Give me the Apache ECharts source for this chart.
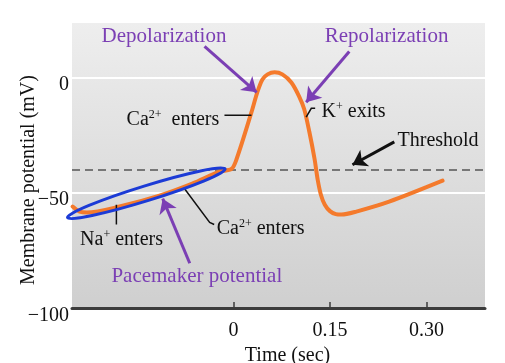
<!DOCTYPE html>
<html><head><meta charset="utf-8">
<script src="https://cdn.jsdelivr.net/npm/echarts@6/dist/echarts.min.js"></script>
<style>html,body{margin:0;padding:0;background:#fff}#c{width:505px;height:363px}</style>
</head><body><div id="c"></div>
<script>
// ---- data (time in seconds, membrane potential in mV) ----
const timeSec = [-0.250, -0.239, -0.228, -0.177, -0.115, -0.064, -0.022, -0.003, 0.005, 0.028, 0.037, 0.045, 0.053, 0.064, 0.076, 0.090, 0.102, 0.110, 0.118, 0.126, 0.131, 0.136, 0.142, 0.150, 0.159, 0.168, 0.191, 0.242, 0.325];
const potentialMV = [-56.0, -58.2, -58.6, -56.0, -51.3, -46.1, -40.9, -39.7, -35.3, -15.1, -6.5, -0.9, 1.3, 2.2, 1.3, -2.2, -8.2, -13.8, -23.7, -35.3, -44.5, -51.0, -55.2, -58.0, -59.3, -59.5, -58.2, -53.9, -44.8];
const thresholdMV = -40;
const xTickValues = [0, 0.15, 0.30];
const xTickLabels = ['0', '0.15', '0.30'];
const yTickValues = [-100, -50, 0];
const yTickLabels = ['\u2212100', '\u221250', '0'];

// ---- annotations (anchored in data coordinates) ----
const PURPLE = '#7b3fb4', BLACK = '#111111', ORANGE = '#f47a2c', BLUE = '#1c3bd6';
const arrows = [
  {from: [-0.045, 13.4], to: [0.036, -6.5], color: PURPLE},   // Depolarization
  {from: [0.180, 11.2], to: [0.113, -10.8], color: PURPLE},   // Repolarization
  {from: [0.250, -28.0], to: [0.185, -37.9], color: BLACK},   // Threshold
  {from: [-0.068, -80.6], to: [-0.110, -52.6], color: PURPLE} // Pacemaker
];
const leaders = [
  [[-0.014, -16.4], [0.028, -16.4]],
  [[0.113, -17.2], [0.121, -13.4], [0.127, -13.4]],
  [[-0.182, -55.2], [-0.182, -63.8]],
  [[-0.076, -48.3], [-0.037, -62.9], [-0.030, -63.8]]
];
const notes = [
  {text: 'Depolarization', at: [-0.108, 17.7], align: 'center', color: PURPLE, size: 21},
  {text: 'Repolarization', at: [0.238, 17.7], align: 'center', color: PURPLE, size: 21},
  {text: 'Ca{s|2+}  enters', at: [-0.022, -18.5], align: 'right', color: BLACK, size: 20},
  {text: 'K{s|+} exits', at: [0.137, -15.1], align: 'left', color: BLACK, size: 20},
  {text: 'Threshold', at: [0.255, -27.6], align: 'left', color: BLACK, size: 20},
  {text: 'Na{s|+} enters', at: [-0.174, -70.3], align: 'center', color: BLACK, size: 20},
  {text: 'Ca{s|2+} enters', at: [-0.026, -65.5], align: 'left', color: BLACK, size: 20},
  {text: 'Pacemaker potential', at: [-0.057, -86.2], align: 'center', color: PURPLE, size: 21}
];
const ellipseEnds = [[-0.258, -60.8], [-0.013, -39.7]];

const FONT = '"Liberation Serif", "Times New Roman", serif';
const chart = echarts.init(document.getElementById('c'), null, {renderer: 'canvas'});
const curve = timeSec.map((t, i) => [t, potentialMV[i]]);

chart.setOption({
  animation: false,
  grid: {
    left: 72, right: 20, top: 22, bottom: 55, show: true, borderWidth: 0,
    containLabel: false, outerBoundsMode: 'none',
    backgroundColor: new echarts.graphic.LinearGradient(0, 0, 0, 1, [
      {offset: 0, color: '#eeeeee'}, {offset: 1, color: '#cfcfcf'}
    ])
  },
  xAxis: {
    type: 'value', min: -0.251, max: 0.391,
    name: 'Time (sec)', nameLocation: 'middle', nameGap: 31,
    nameTextStyle: {fontFamily: FONT, fontSize: 20, color: BLACK, padding: [0, 0, 0, 18]},
    axisLine: {show: true, onZero: false, lineStyle: {color: '#3c3c3c', width: 3}},
    axisTick: {show: true, inside: true, length: 6, customValues: xTickValues, lineStyle: {color: '#3c3c3c', width: 1.5}},
    axisLabel: {customValues: xTickValues, margin: 13, fontFamily: FONT, fontSize: 20, color: BLACK,
      formatter: v => { const i = xTickValues.findIndex(x => Math.abs(x - v) < 1e-9); return i >= 0 ? xTickLabels[i] : ''; }},
    splitLine: {show: false}
  },
  yAxis: {
    type: 'value', min: -100, max: 24, interval: 50,
    name: 'Membrane potential (mV)', nameLocation: 'middle', nameGap: 33, nameMoveOverlap: false,
    nameTextStyle: {fontFamily: FONT, fontSize: 20, color: BLACK, padding: [0, 30, 0, 0]},
    axisLine: {show: false, onZero: false},
    axisTick: {show: false},
    axisLabel: {margin: 3, fontFamily: FONT, fontSize: 20, color: BLACK, verticalAlign: 'top', lineHeight: 15,
      formatter: v => { const i = yTickValues.indexOf(v); return i >= 0 ? yTickLabels[i] : ''; }},
    splitLine: {show: true, lineStyle: {color: '#ffffff', width: 2}}
  },
  series: [
    {
      type: 'line', data: curve, smooth: 0.3, showSymbol: false, z: 3,
      lineStyle: {color: ORANGE, width: 4, cap: 'round', join: 'round'},
      markLine: {
        silent: true, symbol: 'none', label: {show: false}, z: 2,
        lineStyle: {type: [8, 5], color: '#555555', width: 1.5},
        data: [{yAxis: thresholdMV}]
      }
    },
    {
      type: 'lines', coordinateSystem: 'cartesian2d', polyline: true, z: 4,
      symbol: 'none', lineStyle: {color: BLACK, width: 1.5, opacity: 1},
      data: leaders.map(c => ({coords: c}))
    },
    {
      type: 'lines', coordinateSystem: 'cartesian2d', z: 5,
      symbol: ['none', 'arrow'], symbolSize: 14,
      data: arrows.map(a => ({coords: [a.from, a.to], lineStyle: {color: a.color, width: 3, opacity: 1}}))
    }
  ]
});

// ---- annotations placed through the chart's own coordinate conversion ----
const px = p => chart.convertToPixel({gridIndex: 0}, p);
const e0 = px(ellipseEnds[0]), e1 = px(ellipseEnds[1]);
const ecx = (e0[0] + e1[0]) / 2, ecy = (e0[1] + e1[1]) / 2;
const erx = Math.hypot(e1[0] - e0[0], e1[1] - e0[1]) / 2;
const eang = Math.atan2(-(e1[1] - e0[1]), e1[0] - e0[0]);
const graphics = [{
  type: 'ellipse', x: ecx, y: ecy, rotation: eang, z: 10,
  shape: {cx: 0, cy: 0, rx: erx, ry: 7.5},
  style: {fill: null, stroke: BLUE, lineWidth: 3}
}];
notes.forEach(n => {
  const p = px(n.at);
  graphics.push({
    type: 'text', x: p[0], y: p[1], z: 10,
    style: {
      text: n.text, fill: n.color, fontFamily: FONT, fontSize: n.size,
      align: n.align, verticalAlign: 'middle',
      rich: {s: {fontSize: Math.round(n.size * 0.62), fontFamily: FONT, fill: n.color, verticalAlign: 'top', lineHeight: n.size + 2}}
    }
  });
});
chart.setOption({graphic: graphics});
</script>
</body></html>
